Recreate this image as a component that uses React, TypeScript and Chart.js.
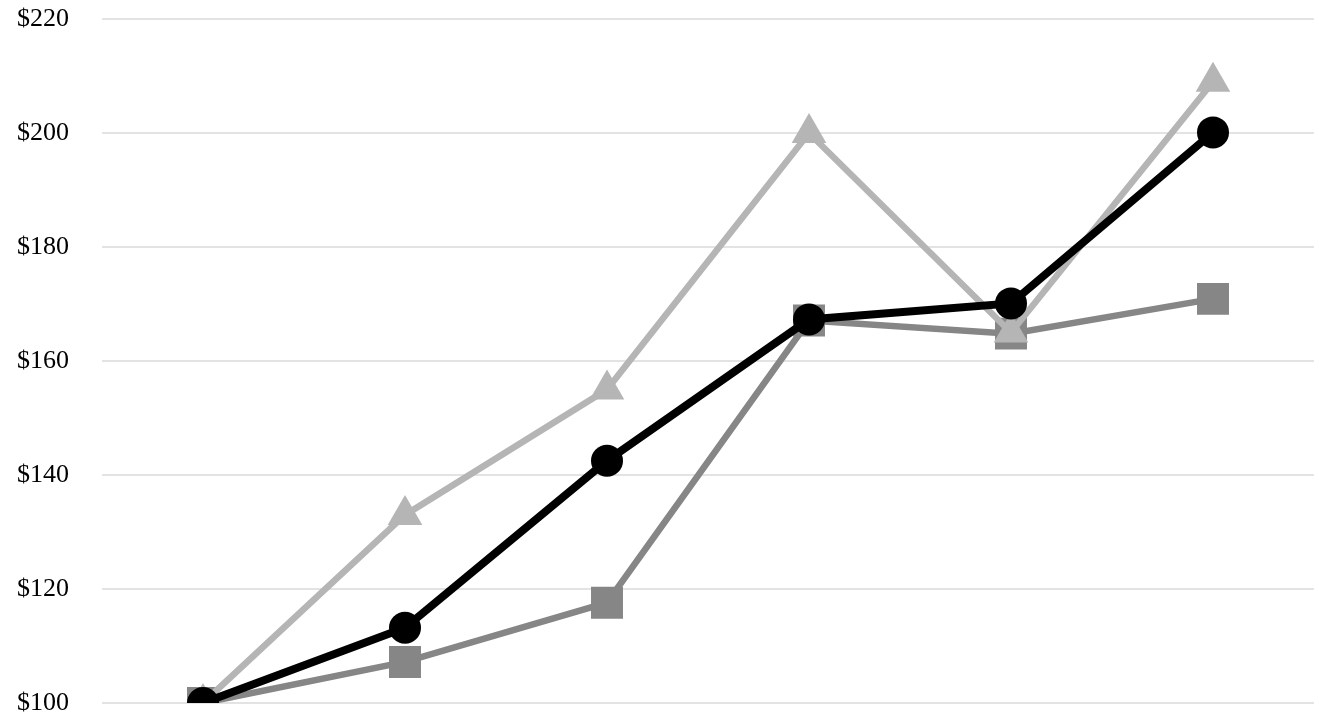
import { useEffect, useRef } from "react";
import Chart from "chart.js/auto";

const categories = ["1", "2", "3", "4", "5", "6"];
const circleSeries = [100, 113.2, 142.5, 167.3, 170.1, 200.1];
const triangleSeries = [100, 133, 155, 200, 165, 209];
const squareSeries = [100, 107.2, 117.6, 167.1, 164.8, 170.9];
const yTicks = [100, 120, 140, 160, 180, 200, 220];

export default function App() {
  const ref = useRef<HTMLCanvasElement | null>(null);
  const chartRef = useRef<Chart | null>(null);

  useEffect(() => {
    document.body.style.margin = "0";
    if (!ref.current) return;
    const ctx = ref.current.getContext("2d");
    if (!ctx) return;

    chartRef.current = new Chart(ctx, {
      type: "line",
      data: {
        labels: categories,
        datasets: [
          {
            label: "Circle",
            data: circleSeries,
            borderColor: "#000000",
            backgroundColor: "#000000",
            borderWidth: 8,
            pointStyle: "circle",
            pointRadius: 16,
            pointBorderWidth: 0,
            order: 1,
          },
          {
            label: "Triangle",
            data: triangleSeries,
            borderColor: "#b5b5b5",
            backgroundColor: "#b5b5b5",
            borderWidth: 6.5,
            pointStyle: "triangle",
            pointRadius: 20,
            pointBorderWidth: 0,
            order: 2,
          },
          {
            label: "Square",
            data: squareSeries,
            borderColor: "#868686",
            backgroundColor: "#868686",
            borderWidth: 6.5,
            pointStyle: "rect",
            pointRadius: 22.6,
            pointBorderWidth: 0,
            order: 3,
          },
        ],
      },
      options: {
        responsive: false,
        animation: false,
        devicePixelRatio: 1,
        layout: {
          autoPadding: false,
          padding: { top: 19, bottom: 19, left: 17, right: 20 },
        },
        plugins: {
          legend: { display: false },
          tooltip: { enabled: false },
        },
        scales: {
          x: {
            display: false,
            offset: true,
          },
          y: {
            min: yTicks[0],
            max: yTicks[yTicks.length - 1],
            border: { display: false },
            grid: { color: "#e3e3e3", lineWidth: 2, drawTicks: false },
            ticks: {
              stepSize: 20,
              padding: 33,
              color: "#000000",
              font: { family: "Liberation Serif", size: 26 },
              callback: (v) => `$${v}`,
            },
            afterFit: (scale) => {
              scale.width = 85;
              scale.paddingTop = 0;
              scale.paddingBottom = 0;
            },
          },
        },
      },
    });

    return () => {
      if (chartRef.current) {
        chartRef.current.destroy();
        chartRef.current = null;
      }
    };
  }, []);

  return <canvas ref={ref} width={1334} height={722} />;
}
